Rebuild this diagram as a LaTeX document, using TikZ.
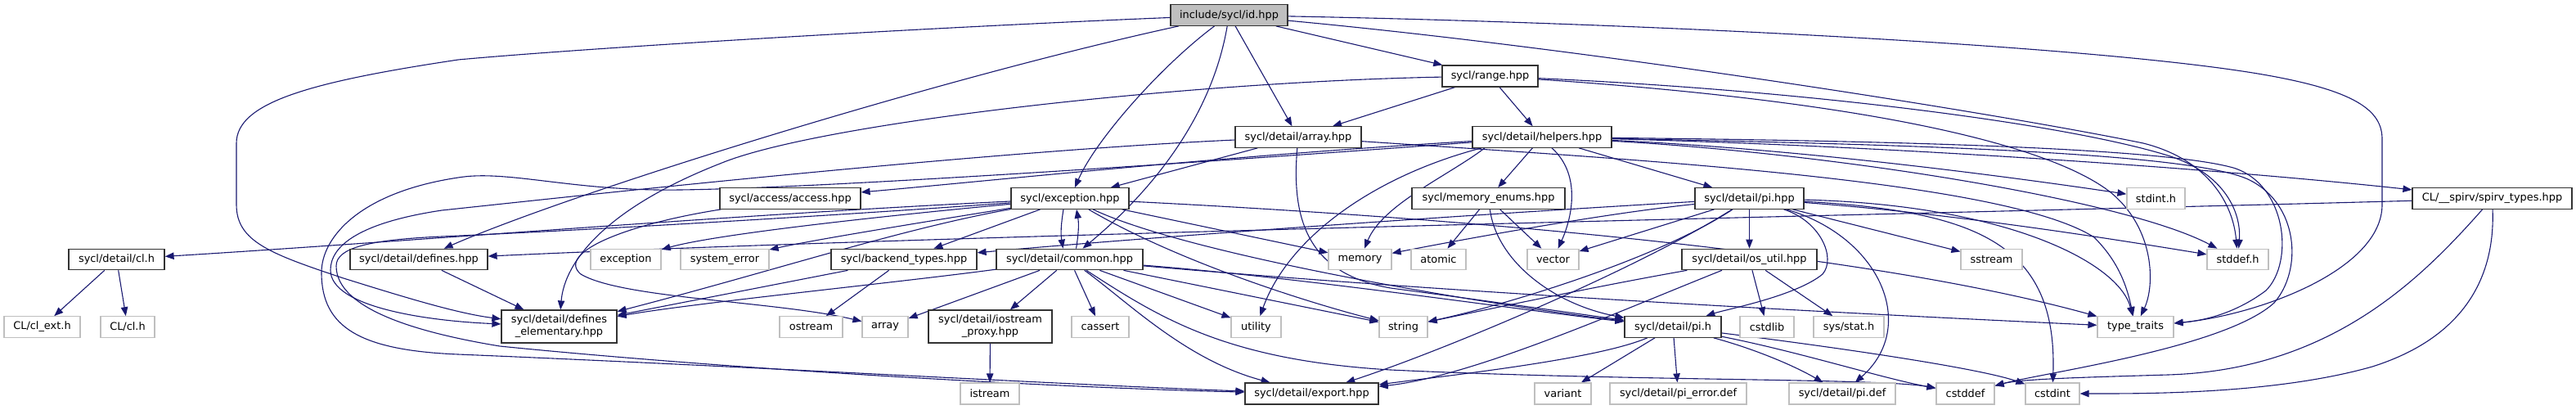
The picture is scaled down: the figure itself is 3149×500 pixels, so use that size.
\documentclass[tikz,border=0pt]{standalone}
\usepackage{fontspec}
\setmainfont{DejaVu Sans}
\usetikzlibrary{arrows.meta,backgrounds}
\definecolor{edgec}{HTML}{191970}
\definecolor{extc}{HTML}{BFBFBF}
\definecolor{rootc}{HTML}{BFBFBF}
\definecolor{bordc}{HTML}{333333}
\newcommand\gfs{\fontsize{6.45}{7.6}\selectfont}
\begin{document}
\begin{tikzpicture}[x=0.5pt,y=-0.5pt,
  nd/.style={draw=bordc,line width=0.6pt,fill=white,inner sep=0pt,font=\gfs,minimum height=12.75pt,text=black},
  ex/.style={nd,draw=extc},
  tw/.style={nd,align=center,minimum height=20pt},
  ed/.style={draw=edgec,line width=0.55pt,-{Triangle[length=5.5pt,width=4.2pt]}}]
\useasboundingbox (0,0) rectangle (3149,500);
% row 0-1
\node[nd,fill=rootc,minimum width=71.5pt] (id) at (1502.5,18.5) {include/sycl/id.hpp};
\node[nd,minimum width=58.5pt,minimum height=13pt] (range) at (1821.5,93) {sycl/range.hpp};
% row 2
\node[nd,minimum width=77pt] (array) at (1587,167.5) {sycl/detail/array.hpp};
\node[nd,minimum width=85pt] (helpers) at (1885,167.5) {sycl/detail/helpers.hpp};
% row 3
\node[nd,minimum width=86pt] (access) at (966,242.5) {sycl/access/access.hpp};
\node[nd,minimum width=72pt] (exception) at (1308,242.5) {sycl/exception.hpp};
\node[nd,minimum width=93.5pt] (memenum) at (1819.5,242.5) {sycl/memory\_enums.hpp};
\node[nd,minimum width=66.5pt] (pihpp) at (2138.5,242.5) {sycl/detail/pi.hpp};
\node[ex,minimum width=35.5pt] (stdinth) at (2635.5,242.5) {stdint.h};
\node[nd,minimum width=97.5pt] (spirv) at (3046.5,242.5) {CL/\_\_spirv/spirv\_types.hpp};
% row 4
\node[nd,minimum width=58.5pt] (clh) at (142.5,317) {sycl/detail/cl.h};
\node[nd,minimum width=84pt] (defines) at (512,317) {sycl/detail/defines.hpp};
\node[ex,minimum width=43pt] (exc) at (765,317) {exception};
\node[ex,minimum width=54pt] (syserr) at (886,317) {system\_error};
\node[nd,minimum width=89pt] (backend) at (1105,317) {sycl/backend\_types.hpp};
\node[nd,minimum width=89.5pt] (common) at (1307.5,317) {sycl/detail/common.hpp};
\node[ex,minimum width=38.5pt] (memory) at (1662.5,317) {memory};
\node[ex,minimum width=33.5pt] (atomic) at (1758.5,317) {atomic};
\node[ex,minimum width=31.5pt] (vector) at (1898.5,317) {vector};
\node[nd,minimum width=82.5pt] (osutil) at (2138.5,317) {sycl/detail/os\_util.hpp};
\node[ex,minimum width=37.5pt] (sstream) at (2434.5,317) {sstream};
\node[ex,minimum width=37.5pt] (stddefh) at (2735.5,317) {stddef.h};
% row 5
\node[ex,minimum width=46.5pt] (clext) at (51.5,399.5) {CL/cl\_ext.h};
\node[ex,minimum width=33pt] (clcl) at (156,399.5) {CL/cl.h};
\node[tw,minimum width=70.5pt] (defel) at (683.5,399) {sycl/detail/defines\\\_elementary.hpp};
\node[ex,minimum width=38.5pt] (ostream) at (991.5,399.5) {ostream};
\node[ex,minimum width=28pt] (arraystd) at (1082,399.5) {array};
\node[tw,minimum width=75.5pt] (iostream) at (1210.5,399) {sycl/detail/iostream\\\_proxy.hpp};
\node[ex,minimum width=35pt] (cassert) at (1345,399.5) {cassert};
\node[ex,minimum width=30.5pt] (utility) at (1535.5,399.5) {utility};
\node[ex,minimum width=29.5pt] (string) at (1715.5,399.5) {string};
\node[nd,minimum width=59pt] (pih) at (2045,399.5) {sycl/detail/pi.h};
\node[ex,minimum width=33pt] (cstdlib) at (2160,399.5) {cstdlib};
\node[ex,minimum width=43pt] (sysstat) at (2260,399.5) {sys/stat.h};
\node[ex,minimum width=46.5pt] (typetraits) at (2610.5,399.5) {type\_traits};
% row 6
\node[ex,minimum width=36pt,minimum height=13pt] (istream) at (1210,481) {istream};
\node[nd,minimum width=81.5pt,minimum height=13pt] (export) at (1603.5,481) {sycl/detail/export.hpp};
\node[ex,minimum width=34.5pt,minimum height=13pt] (variant) at (1910.5,481) {variant};
\node[ex,minimum width=83.5pt,minimum height=13pt] (pierror) at (2051.5,481) {sycl/detail/pi\_error.def};
\node[ex,minimum width=65pt,minimum height=13pt] (pidef) at (2252,481) {sycl/detail/pi.def};
\node[ex,minimum width=35.5pt,minimum height=13pt] (cstddef) at (2402.5,481) {cstddef};
\node[ex,minimum width=33pt,minimum height=13pt] (cstdint) at (2509,481) {cstdint};

\begin{pgfonlayer}{background}
% id
\draw[ed] (id) .. controls (1100,35) and (700,60) .. (560,73) .. controls (380,100) and (289,125) .. (289,175) -- (289,250) .. controls (289,295) and (330,310) .. (420,340) .. controls (500,365) and (560,383) .. (defel);
\draw[ed] (id) .. controls (1150,95) and (700,235) .. (defines);
\draw[ed] (id) .. controls (1420,80) and (1340,170) .. (exception);
\draw[ed] (id) .. controls (1480,150) and (1400,240) .. (common);
\draw[ed] (id) -- (array);
\draw[ed] (id) -- (range);
\draw[ed] (id) .. controls (1950,60) and (2450,140) .. (2620,175) .. controls (2700,195) and (2730,250) .. (stddefh);
\draw[ed] (id) .. controls (2000,28) and (2550,55) .. (2760,90) .. controls (2880,110) and (2912,135) .. (2912,170) -- (2912,250) .. controls (2912,330) and (2760,385) .. (typetraits);
% range
\draw[ed] (range) -- (array);
\draw[ed] (range) -- (helpers);
\draw[ed] (range) .. controls (1450,100) and (1000,150) .. (880,200) .. controls (740,255) and (690,320) .. (defel);
\draw[ed] (range) .. controls (2200,110) and (2520,150) .. (2650,190) .. controls (2720,212) and (2740,260) .. (stddefh);
\draw[ed] (range) .. controls (2300,125) and (2510,180) .. (2580,235) .. controls (2635,280) and (2634,350) .. (typetraits);
% array
\draw[ed] (array) -- (exception);
\draw[ed] (array) .. controls (1200,185) and (700,240) .. (540,257) .. controls (440,272) and (404,300) .. (404,330) .. controls (404,375) and (520,392) .. (defel);
\draw[ed] (array) .. controls (1578,270) and (1600,335) .. (1700,352) .. controls (1850,372) and (1940,385) .. (pih);
\draw[ed] (array) .. controls (2000,195) and (2450,220) .. (2560,290) .. controls (2590,320) and (2600,350) .. (typetraits);
% helpers
\draw[ed] (helpers) .. controls (1500,190) and (1200,222) .. (access);
\draw[ed] (helpers) .. controls (1450,200) and (1000,230) .. (830,232) .. controls (700,234) and (620,207) .. (560,217) .. controls (440,235) and (393,290) .. (393,333) .. controls (393,400) and (440,428) .. (560,433) .. controls (900,447) and (1300,470) .. (export);
\draw[ed] ([xshift=-35pt]helpers.south) .. controls (1770,215) and (1690,250) .. (memory);
\draw[ed] ([xshift=-37pt]helpers.south) .. controls (1680,215) and (1575,290) .. (utility);
\draw[ed] (helpers) -- (memenum);
\draw[ed] ([xshift=6pt]helpers.south) .. controls (1935,215) and (1920,270) .. (vector);
\draw[ed] (helpers) -- (pihpp);
\draw[ed] (helpers) .. controls (2300,178) and (2700,205) .. (spirv);
\draw[ed] (helpers) .. controls (2200,182) and (2450,215) .. (stdinth);
\draw[ed] (helpers) .. controls (2250,188) and (2600,245) .. (stddefh);
\draw[ed] (helpers) .. controls (2300,172) and (2640,180) .. (2730,205) .. controls (2795,225) and (2805,320) .. (2770,355) .. controls (2730,385) and (2690,392) .. (typetraits);
\draw[ed] (helpers) .. controls (2300,176) and (2680,185) .. (2750,220) .. controls (2810,250) and (2815,330) .. (2780,370) .. controls (2720,425) and (2500,455) .. (cstddef);
% exception
\draw[ed] (exception) .. controls (900,262) and (500,295) .. (clh);
\draw[ed] (exception) .. controls (1000,265) and (700,282) .. (540,289) .. controls (450,293) and (411,303) .. (411,325) .. controls (411,380) and (520,408) .. (611,423) .. controls (900,452) and (1300,474) .. (export);
\draw[ed] (exception) .. controls (1100,262) and (880,285) .. (exc);
\draw[ed] (exception) .. controls (1150,268) and (1000,292) .. (syserr);
\draw[ed] (exception) -- (backend);
\draw[ed] ([xshift=-4pt]exception.south) .. controls +(-3,18) and +(-3,-18) .. ([xshift=-4pt]common.north);
\draw[ed] ([xshift=4pt]common.north) .. controls +(3,-18) and +(3,18) .. ([xshift=4pt]exception.south);
\draw[ed] (exception) -- (memory);
\draw[ed] (exception) .. controls (1700,262) and (2250,300) .. (typetraits);
\draw[ed] (exception) .. controls (1450,310) and (1800,370) .. (pih);
\draw[ed] (exception) .. controls (1440,320) and (1600,370) .. (string);
\draw[ed] (exception) .. controls (1100,280) and (950,330) .. (defel);
% common
\draw[ed] (common) .. controls (1100,345) and (850,370) .. (defel);
\draw[ed] (common) -- (arraystd);
\draw[ed] (common) -- (iostream);
\draw[ed] (common) -- (cassert);
\draw[ed] (common) .. controls (1380,370) and (1450,440) .. (export);
\draw[ed] (common) -- (utility);
\draw[ed] (common) -- (string);
\draw[ed] (common) .. controls (1600,340) and (1850,378) .. (pih);
\draw[ed] (common) .. controls (1800,360) and (2300,385) .. (typetraits);
\draw[ed] (common) .. controls (1420,390) and (1500,440) .. (1700,452) .. controls (2000,466) and (2300,462) .. (cstddef);
% small ones
\draw[ed] (defines) -- (defel);
\draw[ed] (backend) -- (defel);
\draw[ed] (backend) -- (ostream);
\draw[ed] (clh) -- (clext);
\draw[ed] (clh) -- (clcl);
\draw[ed] (iostream) -- (istream);
\draw[ed] (access) .. controls (760,275) and (680,310) .. (710,335) .. controls (760,365) and (950,368) .. (arraystd);
% memory_enums
\draw[ed] (memenum) -- (atomic);
\draw[ed] (memenum) -- (vector);
\draw[ed] (memenum) .. controls (1830,320) and (1900,372) .. (pih);
% pi.hpp
\draw[ed] (pihpp) .. controls (1800,262) and (1400,290) .. (backend);
\draw[ed] (pihpp) .. controls (1950,262) and (1760,298) .. (memory);
\draw[ed] (pihpp) -- (vector);
\draw[ed] (pihpp) .. controls (2020,320) and (1830,375) .. (string);
\draw[ed] (pihpp) .. controls (2000,330) and (1760,430) .. (export);
\draw[ed] (pihpp) -- (osutil);
\draw[ed] (pihpp) .. controls (2225,270) and (2245,315) .. (2228,335) .. controls (2195,362) and (2110,378) .. (pih);
\draw[ed] (pihpp) .. controls (2300,290) and (2345,400) .. (pidef);
\draw[ed] (pihpp) .. controls (2420,258) and (2515,300) .. (cstdint);
\draw[ed] (pihpp) .. controls (2450,250) and (2590,320) .. (typetraits);
\draw[ed] (pihpp) -- (sstream);
\draw[ed] (pihpp) .. controls (2400,262) and (2600,295) .. (stddefh);
% os_util
\draw[ed] (osutil) .. controls (1950,350) and (1800,382) .. (string);
\draw[ed] (osutil) .. controls (1980,380) and (1800,460) .. (export);
\draw[ed] (osutil) -- (cstdlib);
\draw[ed] (osutil) -- (sysstat);
% pi.h
\draw[ed] (pih) .. controls (1950,440) and (1760,460) .. (export);
\draw[ed] (pih) -- (variant);
\draw[ed] (pih) -- (pierror);
\draw[ed] (pih) .. controls (2140,425) and (2190,445) .. (pidef);
\draw[ed] (pih) .. controls (2200,430) and (2300,462) .. (cstddef);
\draw[ed] (pih) .. controls (2250,425) and (2420,450) .. (cstdint);
% spirv
\draw[ed] (spirv) .. controls (2500,258) and (1200,285) .. (defines);
\draw[ed] (spirv) .. controls (2960,340) and (2850,452) .. (2650,458) .. controls (2550,461) and (2470,463) .. (cstddef);
\draw[ed] (spirv) .. controls (3050,330) and (3020,410) .. (2900,448) .. controls (2780,482) and (2620,481) .. (cstdint);
\end{pgfonlayer}
\end{tikzpicture}
\end{document}
